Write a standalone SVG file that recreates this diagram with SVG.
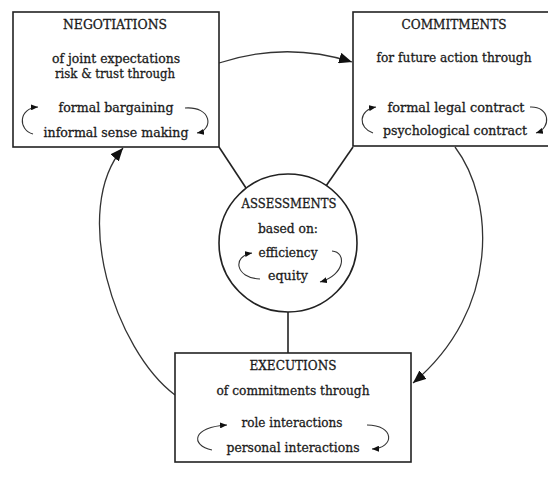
<svg xmlns="http://www.w3.org/2000/svg" width="548" height="495" viewBox="0 0 548 495">
<style>
.box{fill:#fff;stroke:#222;stroke-width:1.6}
.t{font-family:"DejaVu Serif","Liberation Serif",serif;font-size:13px;fill:#1a1a1a;stroke:#1a1a1a;stroke-width:0.3;text-anchor:middle}
.cap{font-size:12.5px}
.link{fill:none;stroke:#222;stroke-width:1.6}
.arc{fill:none;stroke:#333;stroke-width:1.3}
.sarc{fill:none;stroke:#333;stroke-width:1.1}
</style>
<defs>
<marker id="big" viewBox="0 0 13 11" refX="13" refY="5.5" markerWidth="13" markerHeight="11" markerUnits="userSpaceOnUse" orient="auto">
<path d="M0,0 L13,5.5 L0,11 Z" fill="#111"/>
</marker>
<marker id="small" viewBox="0 0 7 6" refX="7" refY="3" markerWidth="7" markerHeight="6" markerUnits="userSpaceOnUse" orient="auto">
<path d="M0,0 L7,3 L0,6 Z" fill="#111"/>
</marker>
</defs>
<rect width="548" height="495" fill="#fff"/>
<g id="connectors">
<path class="arc" d="M219,63 Q286,41 352,62" marker-end="url(#big)"/>
<path class="arc" d="M175,395 C115,350 70,210 123,148" marker-end="url(#big)"/>
<path class="arc" d="M455,147 C495,200 500,310 413,383" marker-end="url(#big)"/>
<line class="link" x1="219" y1="147" x2="246" y2="188"/>
<line class="link" x1="353" y1="147" x2="326" y2="186"/>
<line class="link" x1="288" y1="312" x2="288" y2="353"/>
</g>
<g id="negotiations">
<rect class="box" x="13" y="12" width="206" height="135"/>
<text class="t cap" x="115" y="29" textLength="104" lengthAdjust="spacingAndGlyphs">NEGOTIATIONS</text>
<text class="t" x="116" y="63" textLength="128" lengthAdjust="spacingAndGlyphs">of joint expectations</text>
<text class="t" x="115" y="78" textLength="120" lengthAdjust="spacingAndGlyphs">risk &amp; trust through</text>
<text class="t" x="116" y="112" textLength="115" lengthAdjust="spacingAndGlyphs">formal bargaining</text>
<text class="t" x="116" y="137" textLength="145" lengthAdjust="spacingAndGlyphs">informal sense making</text>
<path class="sarc" d="M33,134 C18,130 18,108 38,107" marker-end="url(#small)"/>
<path class="sarc" d="M185,108 C212,106 214,130 197,133" marker-end="url(#small)"/>
</g>
<g id="commitments">
<rect class="box" x="353" y="12" width="210" height="134"/>
<text class="t cap" x="454" y="29" textLength="105" lengthAdjust="spacingAndGlyphs">COMMITMENTS</text>
<text class="t" x="454" y="62" textLength="155" lengthAdjust="spacingAndGlyphs">for future action through</text>
<text class="t" x="456" y="112" textLength="137" lengthAdjust="spacingAndGlyphs">formal legal contract</text>
<text class="t" x="455" y="135" textLength="144" lengthAdjust="spacingAndGlyphs">psychological contract</text>
<path class="sarc" d="M373,133 C358,128 358,110 376,107" marker-end="url(#small)"/>
<path class="sarc" d="M530,107 C550,106 552,128 536,133" marker-end="url(#small)"/>
</g>
<g id="assessments">
<circle class="box" cx="288" cy="243" r="69"/>
<text class="t cap" x="289" y="208" textLength="95" lengthAdjust="spacingAndGlyphs">ASSESSMENTS</text>
<text class="t" x="288" y="233" textLength="60" lengthAdjust="spacingAndGlyphs">based on:</text>
<text class="t" x="288" y="257" textLength="59" lengthAdjust="spacingAndGlyphs">efficiency</text>
<text class="t" x="288" y="280" textLength="40" lengthAdjust="spacingAndGlyphs">equity</text>
<path class="sarc" d="M260,279 C235,278 232,256 252,253" marker-end="url(#small)"/>
<path class="sarc" d="M332,251 C347,252 345,275 320,282" marker-end="url(#small)"/>
</g>
<g id="executions">
<rect class="box" x="175" y="353" width="236" height="109"/>
<text class="t cap" x="293" y="370" textLength="87" lengthAdjust="spacingAndGlyphs">EXECUTIONS</text>
<text class="t" x="293" y="395" textLength="153" lengthAdjust="spacingAndGlyphs">of commitments through</text>
<text class="t" x="292" y="427" textLength="101" lengthAdjust="spacingAndGlyphs">role interactions</text>
<text class="t" x="293" y="452" textLength="133" lengthAdjust="spacingAndGlyphs">personal interactions</text>
<path class="sarc" d="M212,450 C190,445 192,427 227,425" marker-end="url(#small)"/>
<path class="sarc" d="M367,425 C395,425 395,448 372,449" marker-end="url(#small)"/>
</g>
</svg>
